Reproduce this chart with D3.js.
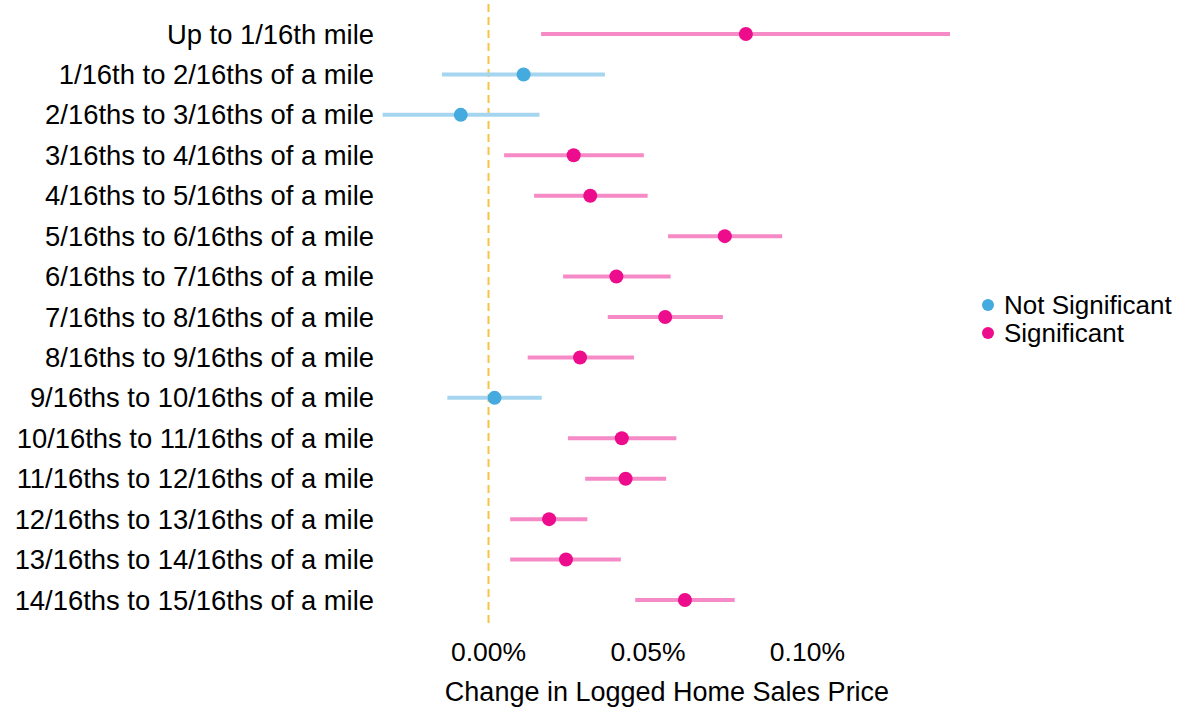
<!DOCTYPE html>
<html>
<head>
<meta charset="utf-8">
<script src="https://cdn.jsdelivr.net/npm/d3@7"></script>
<style>
  body { margin: 0; background: #fff; }
  text { font-family: "Liberation Sans", Arial, sans-serif; fill: #000; }
</style>
</head>
<body>
<div id="chart"></div>
<script>
const width = 1185;
const height = 708;

// distance bands (top to bottom)
const bands = [
  "Up to 1/16th mile",
  "1/16th to 2/16ths of a mile",
  "2/16ths to 3/16ths of a mile",
  "3/16ths to 4/16ths of a mile",
  "4/16ths to 5/16ths of a mile",
  "5/16ths to 6/16ths of a mile",
  "6/16ths to 7/16ths of a mile",
  "7/16ths to 8/16ths of a mile",
  "8/16ths to 9/16ths of a mile",
  "9/16ths to 10/16ths of a mile",
  "10/16ths to 11/16ths of a mile",
  "11/16ths to 12/16ths of a mile",
  "12/16ths to 13/16ths of a mile",
  "13/16ths to 14/16ths of a mile",
  "14/16ths to 15/16ths of a mile"
];

// estimates and confidence bounds, in percent
const estimate = [0.0807, 0.0110, -0.0087, 0.0267, 0.0319, 0.0741, 0.0401, 0.0554, 0.0287, 0.0019, 0.0418, 0.0430, 0.0190, 0.0243, 0.0616];
const lower    = [0.0165, -0.0146, -0.0332, 0.0049, 0.0143, 0.0563, 0.0234, 0.0374, 0.0123, -0.0129, 0.0249, 0.0303, 0.0068, 0.0068, 0.0460];
const upper    = [0.1447, 0.0365, 0.0160, 0.0487, 0.0499, 0.0921, 0.0571, 0.0735, 0.0456, 0.0167, 0.0589, 0.0557, 0.0310, 0.0415, 0.0772];
const significant = [true, false, false, true, true, true, true, true, true, false, true, true, true, true, true];

const xTicks = [0, 0.05, 0.10];
const legendLabels = ["Not Significant", "Significant"];

const pointColor = { true: "#EC0C8C", false: "#45AADD" };
const lineColor = { true: "#F58AC6", false: "#A6D6EF" };

const rows = bands.map((b, i) => ({
  band: b, est: estimate[i], lo: lower[i], hi: upper[i], sig: significant[i]
}));

const svg = d3.select("#chart")
  .append("svg")
  .attr("width", width)
  .attr("height", height);

const x = d3.scaleLinear()
  .domain([-0.037, 0.148])
  .range([370.5, 960.5]);

const y = d3.scalePoint()
  .domain(bands)
  .range([34, 600]);

// zero reference line
svg.append("line")
  .attr("x1", x(0)).attr("x2", x(0))
  .attr("y1", 4).attr("y2", 624)
  .attr("stroke", "#F6C344")
  .attr("stroke-width", 2)
  .attr("stroke-dasharray", "8,5");

// error bars
svg.append("g")
  .selectAll("line")
  .data(rows)
  .enter()
  .append("line")
  .attr("x1", d => x(d.lo))
  .attr("x2", d => x(d.hi))
  .attr("y1", d => y(d.band))
  .attr("y2", d => y(d.band))
  .attr("stroke", d => lineColor[d.sig])
  .attr("stroke-width", 4);

// point estimates
svg.append("g")
  .selectAll("circle")
  .data(rows)
  .enter()
  .append("circle")
  .attr("cx", d => x(d.est))
  .attr("cy", d => y(d.band))
  .attr("r", 7)
  .attr("fill", d => pointColor[d.sig]);

// y labels
svg.append("g")
  .selectAll("text")
  .data(bands)
  .enter()
  .append("text")
  .attr("x", 374)
  .attr("y", d => y(d))
  .attr("dy", "0.35em")
  .attr("text-anchor", "end")
  .style("font-size", "27.4px")
  .text(d => d);

// x tick labels
svg.append("g")
  .selectAll("text")
  .data(xTicks)
  .enter()
  .append("text")
  .attr("x", d => x(d))
  .attr("y", 652)
  .attr("dy", "0.35em")
  .attr("text-anchor", "middle")
  .style("font-size", "26.5px")
  .text(d => d3.format(".2f")(d) + "%");

// axis title
svg.append("text")
  .attr("x", 667)
  .attr("y", 692)
  .attr("dy", "0.35em")
  .attr("text-anchor", "middle")
  .style("font-size", "27px")
  .text("Change in Logged Home Sales Price");

// legend
const legend = svg.append("g")
  .selectAll("g")
  .data(legendLabels)
  .enter()
  .append("g")
  .attr("transform", (d, i) => `translate(988, ${305 + i * 28})`);

legend.append("circle")
  .attr("r", 6)
  .attr("fill", (d, i) => pointColor[i === 1]);

legend.append("text")
  .attr("x", 16)
  .attr("dy", "0.35em")
  .style("font-size", "26px")
  .text(d => d);
</script>
</body>
</html>
